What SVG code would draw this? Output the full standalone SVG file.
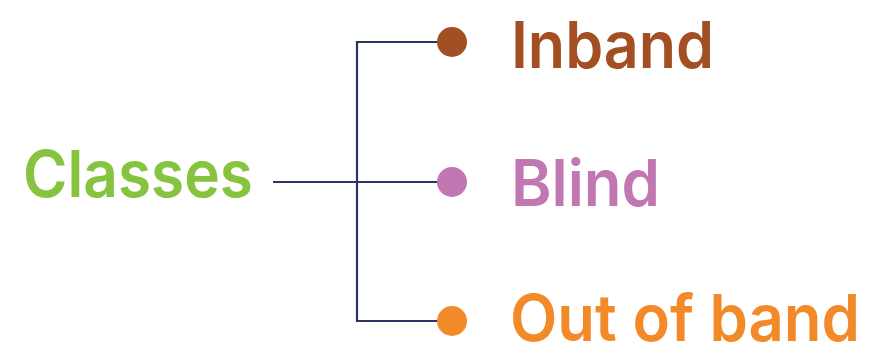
<svg xmlns="http://www.w3.org/2000/svg" width="882" height="344" viewBox="0 0 882 344">
<style>
.lbl{font-family:Inter,"Liberation Sans",sans-serif;font-weight:600;font-size:65px}
.conn{fill:none;stroke:#2b3561;stroke-width:2.2}
</style>
<rect width="882" height="344" fill="#ffffff"/>
<g id="connectors">
<path class="conn" d="M273 182 H452"/>
<path class="conn" d="M452 42 H357 V321 H452"/>
</g>
<g id="classes"><text class="lbl" x="23" y="197" fill="#86c440" textLength="230" lengthAdjust="spacingAndGlyphs">Classes</text></g>
<g id="inband"><circle cx="452" cy="42" r="15" fill="#a34f24"/><text class="lbl" x="511" y="68" fill="#a34f24" textLength="203" lengthAdjust="spacingAndGlyphs">Inband</text></g>
<g id="blind"><circle cx="452" cy="182" r="15" fill="#c077b2"/><text class="lbl" x="511" y="206" fill="#c077b2" textLength="149" lengthAdjust="spacingAndGlyphs">Blind</text></g>
<g id="outofband"><circle cx="452" cy="321" r="15" fill="#f38a2a"/><text class="lbl" x="510" y="341" fill="#f38a2a" textLength="350" lengthAdjust="spacingAndGlyphs">Out of band</text></g>
</svg>
